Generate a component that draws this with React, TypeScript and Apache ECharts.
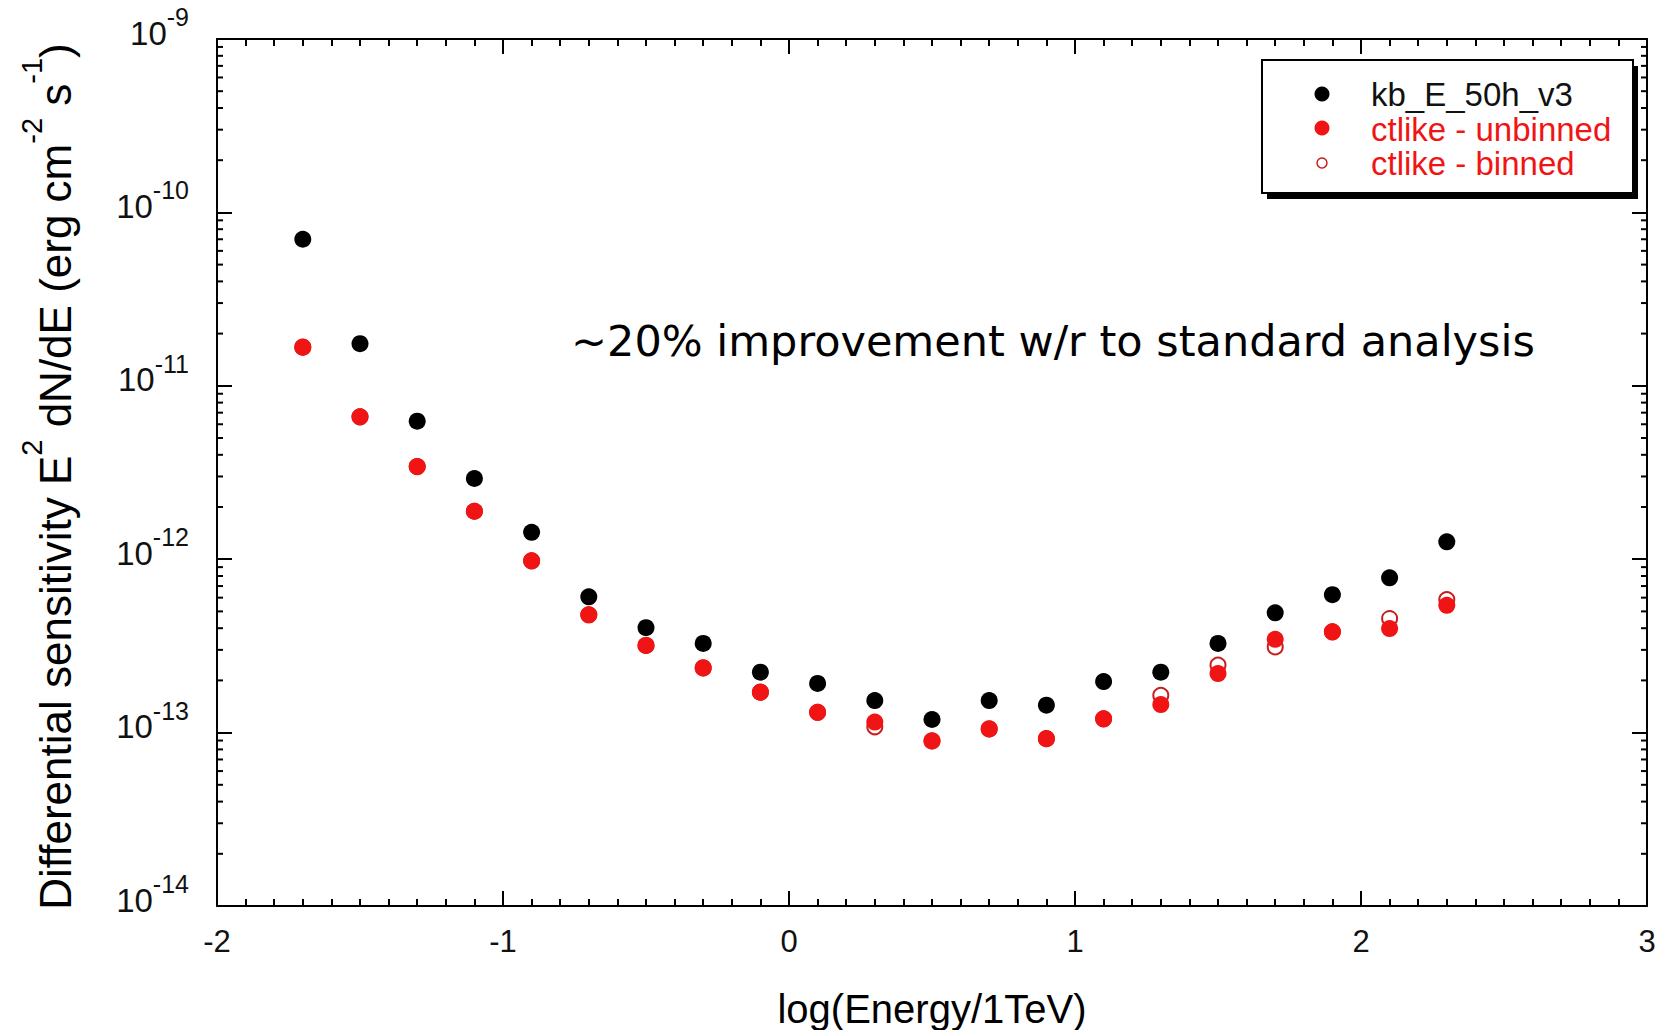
import React, { useEffect, useRef } from "react";
import * as echarts from "echarts";

// log10(E / 1 TeV) bin centres
const LOG_ENERGY = [-1.7, -1.5, -1.3, -1.1, -0.9, -0.7, -0.5, -0.3, -0.1, 0.1, 0.3, 0.5, 0.7, 0.9, 1.1, 1.3, 1.5, 1.7, 1.9, 2.1, 2.3];

// Differential sensitivity E^2 dN/dE (erg cm^-2 s^-1)
const KB_E_50H_V3 = [7.0e-11, 1.75e-11, 6.25e-12, 2.92e-12, 1.43e-12, 6.07e-13, 4.03e-13, 3.27e-13, 2.23e-13, 1.92e-13, 1.53e-13, 1.19e-13, 1.53e-13, 1.44e-13, 1.97e-13, 2.23e-13, 3.27e-13, 4.91e-13, 6.24e-13, 7.81e-13, 1.26e-12];
const CTLIKE_UNBINNED = [1.67e-11, 6.62e-12, 3.42e-12, 1.89e-12, 9.78e-13, 4.78e-13, 3.18e-13, 2.36e-13, 1.71e-13, 1.31e-13, 1.15e-13, 8.95e-14, 1.05e-13, 9.23e-14, 1.2e-13, 1.45e-13, 2.19e-13, 3.45e-13, 3.81e-13, 3.98e-13, 5.42e-13];
const CTLIKE_BINNED = [1.67e-11, 6.62e-12, 3.42e-12, 1.89e-12, 9.78e-13, 4.78e-13, 3.18e-13, 2.36e-13, 1.71e-13, 1.31e-13, 1.08e-13, 8.95e-14, 1.05e-13, 9.23e-14, 1.2e-13, 1.64e-13, 2.45e-13, 3.12e-13, 3.81e-13, 4.55e-13, 5.85e-13];

// Axis ranges and ticks
const X_MIN = -2;
const X_MAX = 3;
const Y_MIN = 1e-14;
const Y_MAX = 1e-9;
const DECADES = [-14, -13, -12, -11, -10];
const MINOR_STEPS = [2, 3, 4, 5, 6, 7, 8, 9];

const SERIES_NAMES = ["kb_E_50h_v3", "ctlike - unbinned", "ctlike - binned"];
const NOTE = "~20% improvement w/r to standard analysis";

const FONT = "'Liberation Sans', Arial, Helvetica, sans-serif";
const BLACK = "#000000";
const RED = "#f01414";
const DARK_RED = "#c81e1e";

export default function App() {
  const ref = useRef<HTMLDivElement | null>(null);

  useEffect(() => {
    if (!ref.current) return;
    const chart = echarts.init(ref.current, undefined, { renderer: "svg" });

    const pairs = (ys: number[]) => LOG_ENERGY.map((x, i) => [x, ys[i]]);

    const minorTickData: number[][] = [];
    DECADES.forEach((d) => {
      MINOR_STEPS.forEach((m) => {
        minorTickData.push([X_MIN, m * Math.pow(10, d)]);
      });
    });

    const axisLine = { show: true, onZero: false, lineStyle: { color: BLACK, width: 2 } };
    const axisTick = { show: true, inside: true, length: 15, lineStyle: { color: BLACK, width: 2 } };

    const xBase = {
      type: "value",
      min: X_MIN,
      max: X_MAX,
      interval: 1,
      axisLine,
      axisTick,
      minorTick: { show: true, splitNumber: 10, length: 7, lineStyle: { color: BLACK, width: 2 } },
      splitLine: { show: false },
      minorSplitLine: { show: false },
    };

    const yBase = {
      type: "log",
      logBase: 10,
      min: Y_MIN,
      max: Y_MAX,
      splitNumber: 5,
      axisLine,
      axisTick,
      minorTick: { show: false },
      splitLine: { show: false },
    };

    const option: any = {
      animation: false,
      backgroundColor: "#ffffff",
      grid: {
        left: 217,
        right: 12,
        top: 39,
        bottom: 124,
        containLabel: false,
        outerBoundsMode: "none",
      },
      xAxis: [
        {
          ...xBase,
          position: "bottom",
          name: "log(Energy/1TeV)",
          nameLocation: "middle",
          nameGap: 83,
          nameTextStyle: { fontFamily: FONT, fontSize: 40, lineHeight: 40, color: "#000" },
          axisLabel: { show: true, fontFamily: FONT, fontSize: 31, color: "#111", margin: 20 },
        },
        {
          ...xBase,
          position: "top",
          axisLabel: { show: false },
        },
      ],
      yAxis: [
        {
          ...yBase,
          position: "left",
          name:
            "{m|Differential sensitivity E}{s|2}{m| dN/dE (erg cm}{s|-2}{m| s}{s|-1}{e|)}",
          nameLocation: "middle",
          nameRotate: 90,
          nameGap: 140,
          nameTextStyle: {
            fontFamily: FONT,
            color: "#000",
            rich: {
              m: { fontFamily: FONT, fontSize: 44, color: "#000", verticalAlign: "bottom", lineHeight: 46 },
              e: {
                fontFamily: FONT,
                fontSize: 44,
                color: "#000",
                verticalAlign: "bottom",
                lineHeight: 46,
                padding: [0, 8, 0, 0],
              },
              s: { fontFamily: FONT, fontSize: 29, color: "#000", verticalAlign: "top", padding: [0, 0, 31, 0] },
            },
          },
          axisLabel: {
            show: true,
            margin: 28,
            padding: [0, 0, 24, 0],
            formatter: (v: number) => `{b|10}{e|${Math.round(Math.log10(v))}}`,
            rich: {
              b: { fontFamily: FONT, fontSize: 33, color: "#111", verticalAlign: "bottom", lineHeight: 33 },
              e: { fontFamily: FONT, fontSize: 25, color: "#111", verticalAlign: "top", padding: [0, 0, 20, 0] },
            },
          },
        },
        {
          ...yBase,
          position: "right",
          axisLabel: { show: false },
        },
      ],
      graphic: [
        {
          type: "text",
          left: 571,
          top: 319,
          z: 50,
          style: { text: NOTE, font: "43px 'DejaVu Sans', Verdana, sans-serif", fill: "#000" },
        },
        {
          type: "group",
          z: 100,
          children: [
            { type: "rect", shape: { x: 1267, y: 66, width: 371, height: 133 }, style: { fill: BLACK } },
            {
              type: "rect",
              shape: { x: 1262, y: 60, width: 371, height: 133 },
              style: { fill: "#fff", stroke: BLACK, lineWidth: 2 },
            },
            { type: "circle", shape: { cx: 1322, cy: 94, r: 7.5 }, style: { fill: BLACK } },
            { type: "circle", shape: { cx: 1322, cy: 128, r: 7.5 }, style: { fill: RED } },
            {
              type: "circle",
              shape: { cx: 1322, cy: 163, r: 5 },
              style: { fill: "#fff", stroke: DARK_RED, lineWidth: 1.5 },
            },
            {
              type: "text",
              x: 1371,
              y: 94,
              style: { text: SERIES_NAMES[0], font: `33px ${FONT}`, fill: "#111", verticalAlign: "middle" },
            },
            {
              type: "text",
              x: 1371,
              y: 129,
              style: { text: SERIES_NAMES[1], font: `33px ${FONT}`, fill: RED, verticalAlign: "middle" },
            },
            {
              type: "text",
              x: 1371,
              y: 163,
              style: { text: SERIES_NAMES[2], font: `33px ${FONT}`, fill: RED, verticalAlign: "middle" },
            },
          ],
        },
      ],
      series: [
        {
          type: "custom",
          name: "minor ticks",
          xAxisIndex: 0,
          yAxisIndex: 0,
          silent: true,
          clip: false,
          data: minorTickData,
          encode: { x: 0, y: 1 },
          renderItem: (_params: any, api: any) => {
            const v = api.value(1);
            const l = api.coord([X_MIN, v]);
            const r = api.coord([X_MAX, v]);
            const style = { stroke: BLACK, lineWidth: 2 };
            return {
              type: "group",
              children: [
                { type: "line", shape: { x1: l[0], y1: l[1], x2: l[0] + 6, y2: l[1] }, style },
                { type: "line", shape: { x1: r[0], y1: r[1], x2: r[0] - 6, y2: r[1] }, style },
              ],
            };
          },
        },
        {
          type: "scatter",
          name: SERIES_NAMES[2],
          data: pairs(CTLIKE_BINNED),
          symbol: "emptyCircle",
          symbolSize: 15,
          itemStyle: { color: DARK_RED, borderColor: DARK_RED, borderWidth: 2, opacity: 1 },
        },
        {
          type: "scatter",
          name: SERIES_NAMES[1],
          data: pairs(CTLIKE_UNBINNED),
          symbol: "circle",
          symbolSize: 17,
          itemStyle: { color: RED, opacity: 1 },
        },
        {
          type: "scatter",
          name: SERIES_NAMES[0],
          data: pairs(KB_E_50H_V3),
          symbol: "circle",
          symbolSize: 17,
          itemStyle: { color: BLACK, opacity: 1 },
        },
      ],
    };

    chart.setOption(option);
    return () => chart.dispose();
  }, []);

  return (
    <div
      ref={ref}
      style={{ position: "absolute", left: 0, top: 0, width: 1659, height: 1030, background: "#fff" }}
    />
  );
}
